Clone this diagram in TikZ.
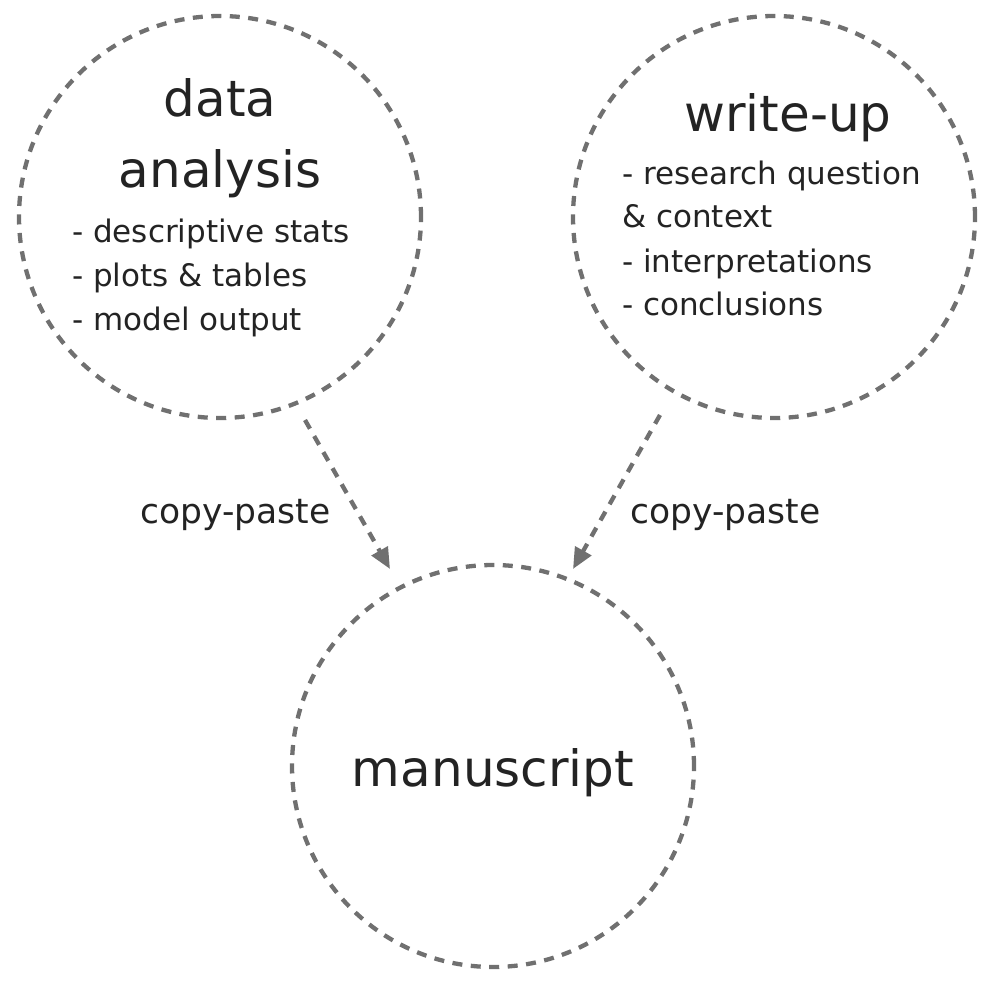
\documentclass[tikz,border=0pt]{standalone}
\usepackage{fontspec}
\setmainfont{DejaVu Sans}
\usetikzlibrary{arrows.meta}
\definecolor{linegray}{HTML}{707070}
\definecolor{txt}{HTML}{232323}
\tikzset{
  bubble/.style={circle, draw=linegray, line width=4.3pt, dash pattern=on 10pt off 8.5pt, minimum size=402pt, inner sep=0pt},
  flow/.style={draw=linegray, line width=4.3pt, dash pattern=on 10pt off 8.5pt, -{Triangle[length=21pt,width=18pt,fill=linegray]}},
  title/.style={text=txt, font=\fontsize{50}{56}\selectfont, inner sep=0pt},
  item/.style={text=txt, font=\fontsize{31}{36}\selectfont, inner sep=0pt, anchor=base west},
  lbl/.style={text=txt, font=\fontsize{34.5}{38}\selectfont, inner sep=0pt, anchor=base west}
}
\begin{document}
\begin{tikzpicture}[x=1pt,y=-1pt]
\useasboundingbox (0,0) rectangle (992,984);
\node[bubble] (da) at (220,217) {};
\node[bubble] (wu) at (774,217) {};
\node[bubble] (ms) at (493,766) {};
% texts
\node[title, anchor=base] (t1) at (220,117) {data};
\node[title, anchor=base] (t2) at (220,188) {analysis};
\node[item] (l1) at (72,242) {- descriptive stats};
\node[item] (l2) at (72,286) {- plots \& tables};
\node[item] (l3) at (72,330) {- model output};
\node[title, anchor=base] (t3) at (788,132) {write-up};
\node[item] (r1) at (622,185) {- research question};
\node[item] (r2) at (622,228) {\& context};
\node[item] (r3) at (622,272) {- interpretations};
\node[item] (r4) at (622,315) {- conclusions};
\node[title, anchor=base] (t4) at (493,786) {manuscript};
% arrows
\coordinate (a1s) at (305,420);
\coordinate (a1e) at (390,569);
\coordinate (a2s) at (660,415);
\coordinate (a2e) at (573,569);
\draw[flow] (a1s) -- (a1e);
\draw[flow] (a2s) -- (a2e);
\node[lbl] (c1) at (140,523) {copy-paste};
\node[lbl] (c2) at (630,523) {copy-paste};
\end{tikzpicture}
\end{document}
